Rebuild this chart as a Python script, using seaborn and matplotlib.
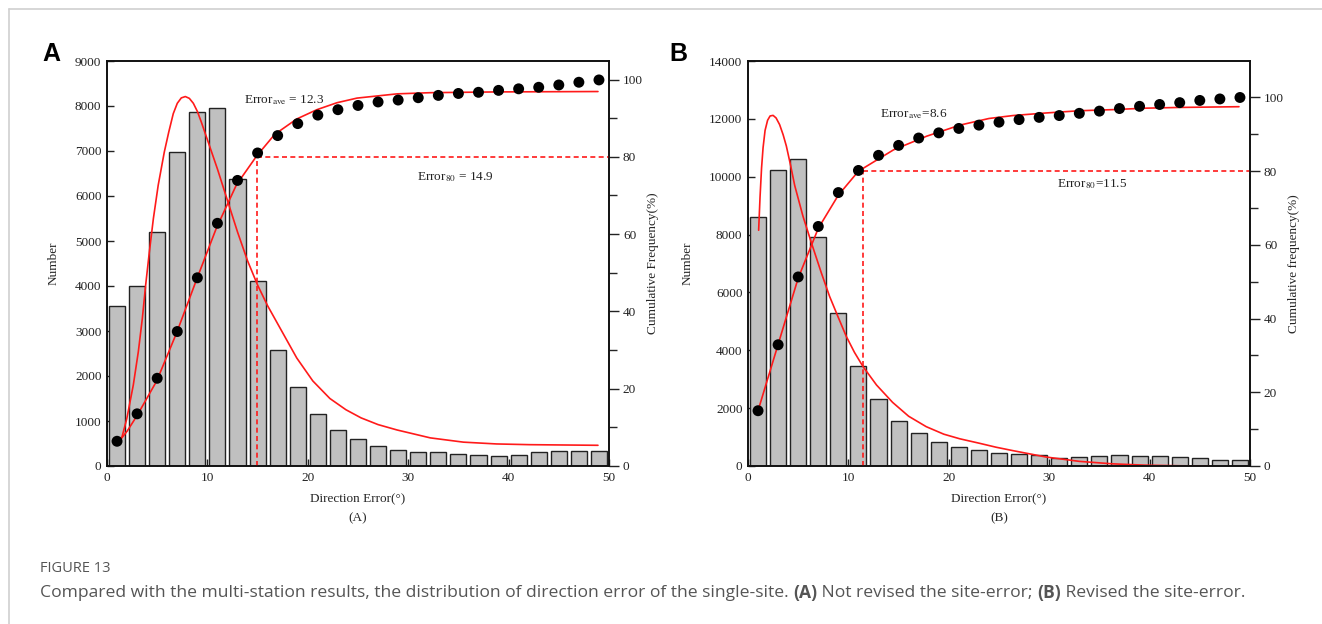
import numpy as np
import pandas as pd
import matplotlib
matplotlib.use("Agg")
import matplotlib.pyplot as plt
import seaborn as sns
from matplotlib.lines import Line2D
from matplotlib.ticker import MultipleLocator

# ---- data ----
bin_centers = list(range(1, 50, 2))
bin_edges = list(range(0, 51, 2))

counts_a = [3560, 4000, 5200, 6980, 7860, 7960, 6380, 4120, 2580, 1760, 1160, 800, 600,
            444, 348, 318, 304, 259, 252, 222, 252, 304, 341, 333, 341]
cum_a = [6.4, 13.5, 22.7, 34.8, 48.7, 62.8, 73.9, 81.0, 85.5, 88.6, 90.8, 92.2, 93.3,
         94.2, 94.7, 95.3, 95.9, 96.4, 96.7, 97.2, 97.6, 98.0, 98.6, 99.3, 99.9]
fit_dist_a_x = [1.13, 1.5, 1.96, 2.62, 3.12, 3.52, 3.85, 4.22, 4.62, 5.1, 5.71, 6.15, 6.6,
                7.0, 7.4, 7.8, 8.2, 8.6, 9.0, 9.4, 10.0, 11.0, 12.0, 13.0, 14.0, 15.0,
                16.0, 17.2, 18.9, 20.5, 22.2, 23.8, 25.3, 27.0, 28.9, 32.2, 35.5, 38.8,
                42.1, 45.4, 48.9]
fit_dist_a_y = [500, 650, 1040, 1800, 2540, 3280, 4020, 4760, 5500, 6240, 6980, 7420, 7830,
                8060, 8180, 8210, 8170, 8060, 7880, 7640, 7250, 6600, 5900, 5200, 4560, 4020,
                3560, 3080, 2400, 1890, 1500, 1250, 1070, 920, 800, 625, 530, 490,
                474, 467, 460]
fit_cum_a_x = [0.96, 2.0, 2.96, 4.95, 6.94, 8.93, 10.9, 12.9, 14.9, 16.7, 18.9, 20.9, 22.9,
               24.9, 28.9, 32.2, 38.8, 48.9]
fit_cum_a_y = [5.6, 9.0, 12.9, 22.0, 34.5, 48.3, 61.6, 72.8, 80.2, 85.8, 89.8, 92.2, 94.0,
               95.2, 96.3, 96.6, 96.8, 96.9]
err80_a = 14.9

counts_b = [8620, 10230, 10620, 7900, 5280, 3460, 2330, 1570, 1155, 842, 647, 540, 461,
            416, 370, 288, 312, 346, 370, 346, 358, 300, 277, 208, 219]
cum_b = [15.0, 32.9, 51.3, 65.0, 74.2, 80.2, 84.3, 87.0, 89.0, 90.4, 91.6, 92.5, 93.3,
         94.0, 94.6, 95.1, 95.7, 96.3, 97.0, 97.6, 98.1, 98.6, 99.2, 99.6, 100.0]
fit_dist_b_x = [1.06, 1.2, 1.35, 1.5, 1.7, 1.95, 2.2, 2.5, 2.8, 3.15, 3.5, 3.82, 4.25, 4.65,
                5.47, 6.31, 7.3, 8.13, 9.0, 9.79, 10.6, 11.45, 12.8, 14.4, 16.0, 17.75, 19.5,
                21.1, 23.0, 24.7, 26.4, 29.7, 33.0, 36.3, 39.6, 43.0, 46.0]
fit_dist_b_y = [8150, 9300, 10300, 11000, 11600, 11950, 12100, 12120, 12030, 11800, 11450,
                11060, 10380, 9700, 8640, 7720, 6680, 5860, 5130, 4480, 3930, 3440, 2800,
                2200, 1720, 1360, 1100, 940, 790, 650, 530, 310, 160, 75, 28, 8, 0]
fit_cum_b_x = [1.0, 3.0, 5.0, 7.0, 9.0, 11.0, 14.5, 17.8, 21.1, 24.0, 26.4, 29.7, 33.0,
               36.3, 39.6, 43.0, 48.9]
fit_cum_b_y = [15.0, 33.0, 51.0, 64.5, 73.5, 80.0, 85.8, 89.5, 92.5, 94.3, 95.1, 95.8, 96.4,
               96.7, 97.1, 97.3, 97.5]
err80_b = 11.5

sns.set_theme(style="white")
plt.rcParams['font.family'] = ['Liberation Serif', 'DejaVu Serif']
plt.rcParams['mathtext.fontset'] = 'stix'

fig = plt.figure(figsize=(13.22, 6.24), dpi=100)

RED = '#ff1a1a'
FS = 9.5


def draw_panel(rect, counts, cum, dx, dy, cx, cy, err80, ymax, ystep, y2max,
               ave_text, ave_pos, e80_text, e80_pos, ylabel2, sub, letter, letter_x):
    ax = fig.add_axes(rect)
    df = pd.DataFrame({'x': bin_centers, 'n': counts})
    sns.histplot(data=df, x='x', weights='n', bins=bin_edges, shrink=0.8,
                 color='#c0c0c0', edgecolor='#222222', linewidth=1.0, alpha=1, ax=ax)
    sns.lineplot(x=dx, y=dy, color=RED, linewidth=1.2, ax=ax, sort=False)
    ax.set_xlim(0, 50)
    ax.set_ylim(0, ymax)
    ax.yaxis.set_major_locator(MultipleLocator(ystep))
    ax.xaxis.set_major_locator(MultipleLocator(10))
    ax.xaxis.set_minor_locator(MultipleLocator(5))
    ax.tick_params(axis='both', which='major', direction='in', length=5, width=1,
                   labelsize=FS, colors='#222222', pad=4)
    ax.tick_params(axis='x', which='minor', direction='in', length=3, width=1, bottom=True)
    ax.tick_params(axis='y', left=True)
    ax.tick_params(axis='x', bottom=True)
    ax.set_ylabel('Number', fontsize=FS, labelpad=11)
    ax.set_xlabel('Direction Error(°)\n' + sub, fontsize=FS, linespacing=1.8, labelpad=7)
    for s in ax.spines.values():
        s.set_color('#111111')
        s.set_linewidth(1.2)

    ax2 = ax.twinx()
    sns.lineplot(x=cx, y=cy, color=RED, linewidth=1.2, ax=ax2, sort=False)
    sns.scatterplot(x=bin_centers, y=cum, color='black', s=62, edgecolor='none', ax=ax2, zorder=5)
    ax2.plot([err80, err80], [0, 80], color=RED, linestyle=(0, (3, 2)), linewidth=1.2)
    ax2.plot([err80, 50], [80, 80], color=RED, linestyle=(0, (3, 2)), linewidth=1.2)
    ax2.set_ylim(0, y2max)
    ax2.yaxis.set_major_locator(MultipleLocator(20))
    ax2.yaxis.set_minor_locator(MultipleLocator(10))
    ax2.tick_params(axis='y', which='major', direction='out', length=7, width=1,
                    labelsize=FS, colors='#222222', right=True, pad=3)
    ax2.tick_params(axis='y', which='minor', direction='out', length=6, width=1, right=True)
    ax2.set_ylabel(ylabel2, fontsize=FS, labelpad=3)
    ax2.yaxis.set_label_position('right')
    for s in ax2.spines.values():
        s.set_color('#111111')
        s.set_linewidth(1.2)

    ax.text(ave_pos[0], ave_pos[1], ave_text, fontsize=FS, ha='left', va='center', color='#222222')
    ax.text(e80_pos[0], e80_pos[1], e80_text, fontsize=FS, ha='left', va='center', color='#222222')
    fig.text(letter_x, 1 - 54 / 624, letter, fontsize=18, fontweight='bold',
             family='Liberation Sans', ha='left', va='center', color='black')
    return ax, ax2


draw_panel([107 / 1322, 1 - 466 / 624, 502 / 1322, 405 / 624], counts_a, cum_a,
           fit_dist_a_x, fit_dist_a_y, fit_cum_a_x, fit_cum_a_y, err80_a, 9000, 1000, 104.8,
           r'Error$_{\rm ave}$ = 12.3', (13.6, 8120),
           r'Error$_{\rm 80}$ = 14.9', (30.9, 6430),
           'Cumulative Frequency(%)', '(A)', 'A', 42 / 1322)

draw_panel([748 / 1322, 1 - 466 / 624, 502 / 1322, 405 / 624], counts_b, cum_b,
           fit_dist_b_x, fit_dist_b_y, fit_cum_b_x, fit_cum_b_y, err80_b, 14000, 2000, 109.9,
           r'Error$_{\rm ave}$=8.6', (13.1, 12160),
           r'Error$_{\rm 80}$=11.5', (30.8, 9730),
           'Cumulative frequency(%)', '(B)', 'B', 669 / 1322)

# page frame
fig.add_artist(Line2D([9 / 1322, 1], [1 - 9 / 624, 1 - 9 / 624], color='#d0d0d0', linewidth=1.2))
fig.add_artist(Line2D([9 / 1322, 9 / 1322], [0, 1 - 9 / 624], color='#d0d0d0', linewidth=1.2))

# caption
cap_font = 'Open Sans'
fig.text(40 / 1322, 1 - 568 / 624, 'FIGURE 13', fontsize=10.5, family=cap_font,
         color='#555555', va='center', ha='left')

renderer = fig.canvas.get_renderer()
pieces = [('Compared with the multi-station results, the distribution of direction error of the single-site. ', 'normal'),
          ('(A)', 'bold'), (' Not revised the site-error; ', 'normal'),
          ('(B)', 'bold'), (' Revised the site-error.', 'normal')]
xpos = 40
for txt, wt in pieces:
    t = fig.text(xpos / 1322, 1 - 593 / 624, txt, fontsize=12.6, family=cap_font,
                 fontweight=wt, color='#555555', va='center', ha='left')
    bb = t.get_window_extent(renderer=renderer)
    xpos += bb.width

fig.savefig('out.png', dpi=100)
